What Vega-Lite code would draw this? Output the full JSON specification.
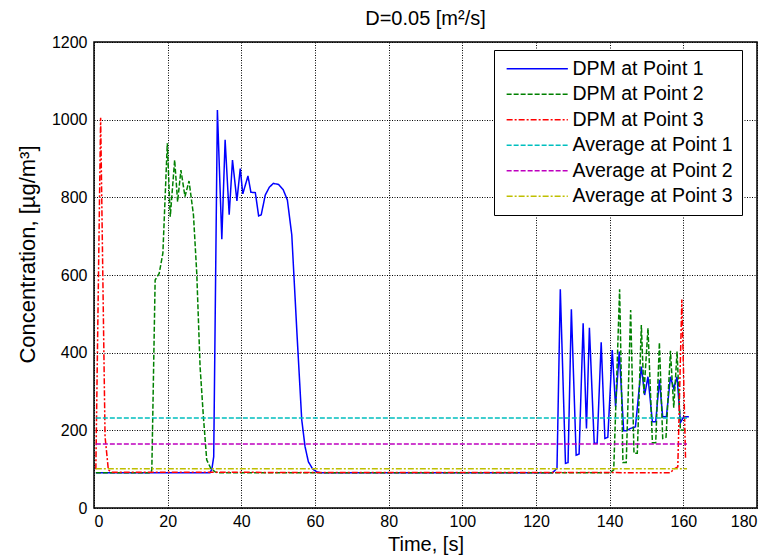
{
  "$schema": "https://vega.github.io/schema/vega-lite/v6.json",
  "width": 663,
  "height": 466,
  "autosize": {"type": "none"},
  "padding": {"left": 94, "top": 42, "right": 12, "bottom": 51},
  "background": "white",
  "title": {"text": "D=0.05 [m²/s]", "fontSize": 20, "font": "Liberation Sans", "fontWeight": "normal", "color": "black", "offset": 5},
  "config": {
    "view": {"stroke": "black", "strokeWidth": 1.5},
    "axis": {
      "labelFont": "Liberation Sans", "labelFontSize": 16, "labelColor": "black",
      "titleFont": "Liberation Sans", "titleFontSize": 20, "titleFontWeight": "normal", "titleColor": "black",
      "grid": true, "gridColor": "black", "gridDash": [1, 1.5], "gridOpacity": 1, "gridWidth": 1,
      "domain": false, "ticks": false
    },
    "legend": {
      "orient": "none", "legendX": 400, "legendY": 8,
      "title": null, "padding": 9,
      "strokeColor": "black", "fillColor": "white",
      "symbolType": "M-1,0H9", "symbolSize": 150, "symbolStrokeWidth": 1.5,
      "labelFont": "Liberation Sans", "labelFontSize": 19.5, "labelColor": "black", "labelLimit": 400,
      "labelOffset": 50, "rowPadding": 4.5
    }
  },
  "data": {
    "values": [
      {"t": 0.5, "v": 91, "s": "DPM at Point 1"},
      {"t": 31.5, "v": 91, "s": "DPM at Point 1"},
      {"t": 32, "v": 100, "s": "DPM at Point 1"},
      {"t": 32.5, "v": 132, "s": "DPM at Point 1"},
      {"t": 33.5, "v": 1025, "s": "DPM at Point 1"},
      {"t": 34.7, "v": 692, "s": "DPM at Point 1"},
      {"t": 35.6, "v": 948, "s": "DPM at Point 1"},
      {"t": 36.7, "v": 755, "s": "DPM at Point 1"},
      {"t": 37.6, "v": 896, "s": "DPM at Point 1"},
      {"t": 38.8, "v": 791, "s": "DPM at Point 1"},
      {"t": 39.7, "v": 874, "s": "DPM at Point 1"},
      {"t": 40.4, "v": 809, "s": "DPM at Point 1"},
      {"t": 41.8, "v": 855, "s": "DPM at Point 1"},
      {"t": 42.6, "v": 813, "s": "DPM at Point 1"},
      {"t": 43.8, "v": 812, "s": "DPM at Point 1"},
      {"t": 44.7, "v": 752, "s": "DPM at Point 1"},
      {"t": 45.4, "v": 755, "s": "DPM at Point 1"},
      {"t": 46.5, "v": 806, "s": "DPM at Point 1"},
      {"t": 47.6, "v": 826, "s": "DPM at Point 1"},
      {"t": 48.7, "v": 836, "s": "DPM at Point 1"},
      {"t": 50.1, "v": 833, "s": "DPM at Point 1"},
      {"t": 51.4, "v": 819, "s": "DPM at Point 1"},
      {"t": 52.5, "v": 793, "s": "DPM at Point 1"},
      {"t": 53.7, "v": 703, "s": "DPM at Point 1"},
      {"t": 55.1, "v": 450, "s": "DPM at Point 1"},
      {"t": 56.4, "v": 227, "s": "DPM at Point 1"},
      {"t": 57.3, "v": 158, "s": "DPM at Point 1"},
      {"t": 58.2, "v": 119, "s": "DPM at Point 1"},
      {"t": 59.4, "v": 100, "s": "DPM at Point 1"},
      {"t": 60.5, "v": 93, "s": "DPM at Point 1"},
      {"t": 61.5, "v": 91, "s": "DPM at Point 1"},
      {"t": 124.5, "v": 91, "s": "DPM at Point 1"},
      {"t": 125.7, "v": 102, "s": "DPM at Point 1"},
      {"t": 126.6, "v": 563, "s": "DPM at Point 1"},
      {"t": 128, "v": 115, "s": "DPM at Point 1"},
      {"t": 128.7, "v": 117, "s": "DPM at Point 1"},
      {"t": 129.6, "v": 512, "s": "DPM at Point 1"},
      {"t": 130.9, "v": 136, "s": "DPM at Point 1"},
      {"t": 131.7, "v": 139, "s": "DPM at Point 1"},
      {"t": 132.8, "v": 476, "s": "DPM at Point 1"},
      {"t": 133.7, "v": 205, "s": "DPM at Point 1"},
      {"t": 134.5, "v": 464, "s": "DPM at Point 1"},
      {"t": 135.8, "v": 167, "s": "DPM at Point 1"},
      {"t": 136.6, "v": 167, "s": "DPM at Point 1"},
      {"t": 137.7, "v": 427, "s": "DPM at Point 1"},
      {"t": 138.7, "v": 179, "s": "DPM at Point 1"},
      {"t": 139.5, "v": 182, "s": "DPM at Point 1"},
      {"t": 140.7, "v": 407, "s": "DPM at Point 1"},
      {"t": 141.6, "v": 261, "s": "DPM at Point 1"},
      {"t": 142.6, "v": 403, "s": "DPM at Point 1"},
      {"t": 143.8, "v": 199, "s": "DPM at Point 1"},
      {"t": 144.6, "v": 199, "s": "DPM at Point 1"},
      {"t": 145.7, "v": 205, "s": "DPM at Point 1"},
      {"t": 147, "v": 209, "s": "DPM at Point 1"},
      {"t": 148.6, "v": 364, "s": "DPM at Point 1"},
      {"t": 149.5, "v": 291, "s": "DPM at Point 1"},
      {"t": 150.4, "v": 338, "s": "DPM at Point 1"},
      {"t": 151.6, "v": 222, "s": "DPM at Point 1"},
      {"t": 152.5, "v": 222, "s": "DPM at Point 1"},
      {"t": 153.5, "v": 330, "s": "DPM at Point 1"},
      {"t": 154.4, "v": 235, "s": "DPM at Point 1"},
      {"t": 155.4, "v": 235, "s": "DPM at Point 1"},
      {"t": 156.5, "v": 338, "s": "DPM at Point 1"},
      {"t": 157.4, "v": 308, "s": "DPM at Point 1"},
      {"t": 158.3, "v": 338, "s": "DPM at Point 1"},
      {"t": 159.2, "v": 220, "s": "DPM at Point 1"},
      {"t": 160.1, "v": 235, "s": "DPM at Point 1"},
      {"t": 161.5, "v": 235, "s": "DPM at Point 1"},

      {"t": 0.5, "v": 91, "s": "DPM at Point 2"},
      {"t": 15.4, "v": 91, "s": "DPM at Point 2"},
      {"t": 15.7, "v": 98, "s": "DPM at Point 2"},
      {"t": 16.6, "v": 587, "s": "DPM at Point 2"},
      {"t": 17.7, "v": 604, "s": "DPM at Point 2"},
      {"t": 18.7, "v": 656, "s": "DPM at Point 2"},
      {"t": 19.9, "v": 939, "s": "DPM at Point 2"},
      {"t": 20.7, "v": 750, "s": "DPM at Point 2"},
      {"t": 21.9, "v": 896, "s": "DPM at Point 2"},
      {"t": 22.7, "v": 789, "s": "DPM at Point 2"},
      {"t": 23.6, "v": 870, "s": "DPM at Point 2"},
      {"t": 24.7, "v": 802, "s": "DPM at Point 2"},
      {"t": 25.8, "v": 842, "s": "DPM at Point 2"},
      {"t": 27, "v": 755, "s": "DPM at Point 2"},
      {"t": 27.9, "v": 604, "s": "DPM at Point 2"},
      {"t": 28.8, "v": 364, "s": "DPM at Point 2"},
      {"t": 29.7, "v": 235, "s": "DPM at Point 2"},
      {"t": 30.6, "v": 124, "s": "DPM at Point 2"},
      {"t": 31.7, "v": 102, "s": "DPM at Point 2"},
      {"t": 32.9, "v": 93, "s": "DPM at Point 2"},
      {"t": 33.5, "v": 91, "s": "DPM at Point 2"},
      {"t": 140.1, "v": 91, "s": "DPM at Point 2"},
      {"t": 141.1, "v": 98, "s": "DPM at Point 2"},
      {"t": 142.7, "v": 563, "s": "DPM at Point 2"},
      {"t": 143.6, "v": 117, "s": "DPM at Point 2"},
      {"t": 144.5, "v": 117, "s": "DPM at Point 2"},
      {"t": 145.7, "v": 510, "s": "DPM at Point 2"},
      {"t": 146.6, "v": 141, "s": "DPM at Point 2"},
      {"t": 147.5, "v": 141, "s": "DPM at Point 2"},
      {"t": 148.6, "v": 471, "s": "DPM at Point 2"},
      {"t": 149.3, "v": 295, "s": "DPM at Point 2"},
      {"t": 150.4, "v": 463, "s": "DPM at Point 2"},
      {"t": 151.6, "v": 168, "s": "DPM at Point 2"},
      {"t": 152.5, "v": 168, "s": "DPM at Point 2"},
      {"t": 153.5, "v": 426, "s": "DPM at Point 2"},
      {"t": 154.4, "v": 179, "s": "DPM at Point 2"},
      {"t": 155.3, "v": 182, "s": "DPM at Point 2"},
      {"t": 156.5, "v": 405, "s": "DPM at Point 2"},
      {"t": 157.4, "v": 258, "s": "DPM at Point 2"},
      {"t": 158.3, "v": 403, "s": "DPM at Point 2"},
      {"t": 159.2, "v": 201, "s": "DPM at Point 2"},
      {"t": 160.5, "v": 200, "s": "DPM at Point 2"},

      {"t": 0.5, "v": 100, "s": "DPM at Point 3"},
      {"t": 1.8, "v": 1005, "s": "DPM at Point 3"},
      {"t": 3, "v": 184, "s": "DPM at Point 3"},
      {"t": 3.9, "v": 98, "s": "DPM at Point 3"},
      {"t": 4.8, "v": 92, "s": "DPM at Point 3"},
      {"t": 156.5, "v": 91, "s": "DPM at Point 3"},
      {"t": 157.4, "v": 100, "s": "DPM at Point 3"},
      {"t": 158.5, "v": 106, "s": "DPM at Point 3"},
      {"t": 159.6, "v": 537, "s": "DPM at Point 3"},
      {"t": 160.6, "v": 125, "s": "DPM at Point 3"},

      {"t": 0.5, "v": 232, "s": "Average at Point 1"},
      {"t": 161, "v": 232, "s": "Average at Point 1"},
      {"t": 0.5, "v": 165, "s": "Average at Point 2"},
      {"t": 161, "v": 165, "s": "Average at Point 2"},
      {"t": 0.5, "v": 101, "s": "Average at Point 3"},
      {"t": 161, "v": 101, "s": "Average at Point 3"}
    ]
  },
  "mark": {"type": "line", "strokeWidth": 1.5},
  "encoding": {
    "x": {
      "field": "t", "type": "quantitative",
      "scale": {"domain": [0, 180], "nice": false, "zero": false},
      "axis": {"values": [0, 20, 40, 60, 80, 100, 120, 140, 160, 180], "title": "Time, [s]", "labelPadding": 5, "titlePadding": 5}
    },
    "y": {
      "field": "v", "type": "quantitative",
      "scale": {"domain": [0, 1200], "nice": false},
      "axis": {"values": [0, 200, 400, 600, 800, 1000, 1200], "format": "d", "title": "Concentration, [µg/m³]", "titleFontSize": 22, "titleY": 212, "labelPadding": 7, "titlePadding": 12}
    },
    "color": {
      "field": "s", "type": "nominal",
      "scale": {
        "domain": ["DPM at Point 1", "DPM at Point 2", "DPM at Point 3", "Average at Point 1", "Average at Point 2", "Average at Point 3"],
        "range": ["#0000ff", "#008000", "#ff0000", "#00bfbf", "#bf00bf", "#bfbf00"]
      }
    },
    "strokeDash": {
      "field": "s", "type": "nominal",
      "scale": {
        "domain": ["DPM at Point 1", "DPM at Point 2", "DPM at Point 3", "Average at Point 1", "Average at Point 2", "Average at Point 3"],
        "range": [[1, 0], [5, 2], [6, 2, 2, 2], [5, 2], [5, 2], [6, 2, 2, 2]]
      }
    }
  }
}
